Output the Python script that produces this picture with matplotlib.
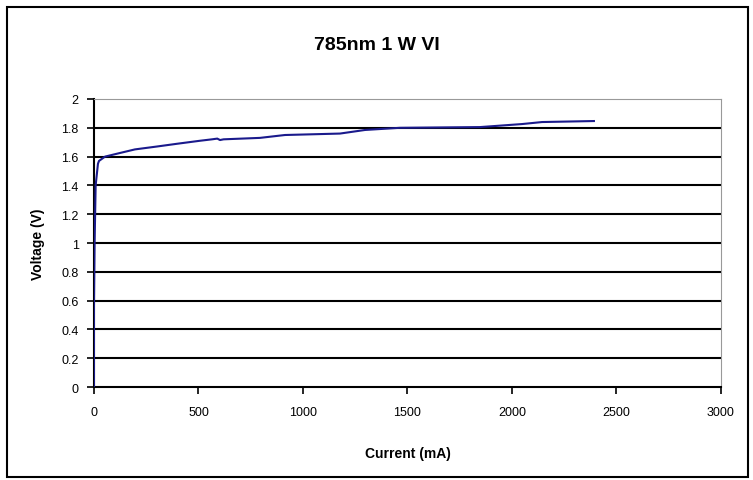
import matplotlib.pyplot as plt
from matplotlib.patches import Rectangle

# 785nm 1W VI curve
current = [0, 0, 3, 8, 19, 24, 53, 124, 196, 301, 402, 507, 565, 590, 603, 620,
           794, 914, 1177, 1297, 1464, 1847, 2048, 2144, 2392]
voltage = [0, 0.56, 1.0, 1.4, 1.55, 1.57, 1.60, 1.625, 1.65, 1.67, 1.69, 1.71,
           1.72, 1.725, 1.715, 1.72, 1.73, 1.75, 1.76, 1.785, 1.80, 1.805,
           1.826, 1.84, 1.847]

plt.rcParams['font.family'] = ['Liberation Sans', 'DejaVu Sans']

fig = plt.figure(figsize=(7.53, 4.81), dpi=100)
ax = fig.add_axes([0.1248, 0.1933, 0.8327, 0.5988])

# outer frame of the chart
fig.patches.append(Rectangle((0.009, 0.006), 0.985, 0.978, transform=fig.transFigure,
                             fill=False, edgecolor='black', linewidth=1.5))

ax.set_xlim(0, 3000)
ax.set_ylim(0, 2)
ax.set_xticks(range(0, 3001, 500))
ax.set_yticks([0, 0.2, 0.4, 0.6, 0.8, 1, 1.2, 1.4, 1.6, 1.8, 2])
ax.set_yticklabels(['0', '0.2', '0.4', '0.6', '0.8', '1', '1.2', '1.4', '1.6', '1.8', '2'])

for y in [0.2, 0.4, 0.6, 0.8, 1, 1.2, 1.4, 1.6, 1.8]:
    ax.axhline(y, color='black', linewidth=1.5, zorder=1)

ax.plot(current, voltage, color='#1a1a8c', linewidth=1.5, zorder=3)

ax.spines['top'].set_color('#999999')
ax.spines['right'].set_color('#999999')
ax.spines['left'].set_linewidth(1.5)
ax.spines['bottom'].set_linewidth(1.5)
ax.tick_params(direction='out', length=5, width=1.2, labelsize=9)
ax.tick_params(axis='x', pad=9)
ax.tick_params(axis='y', pad=6)

fig.text(0.5, 0.905, '785nm 1 W VI', fontsize=14, fontweight='bold',
         ha='center', va='center')
ax.set_xlabel('Current (mA)', fontsize=10, fontweight='bold', labelpad=20)
ax.set_ylabel('Voltage (V)', fontsize=10, fontweight='bold', labelpad=12)

fig.savefig('out.png', dpi=100)
